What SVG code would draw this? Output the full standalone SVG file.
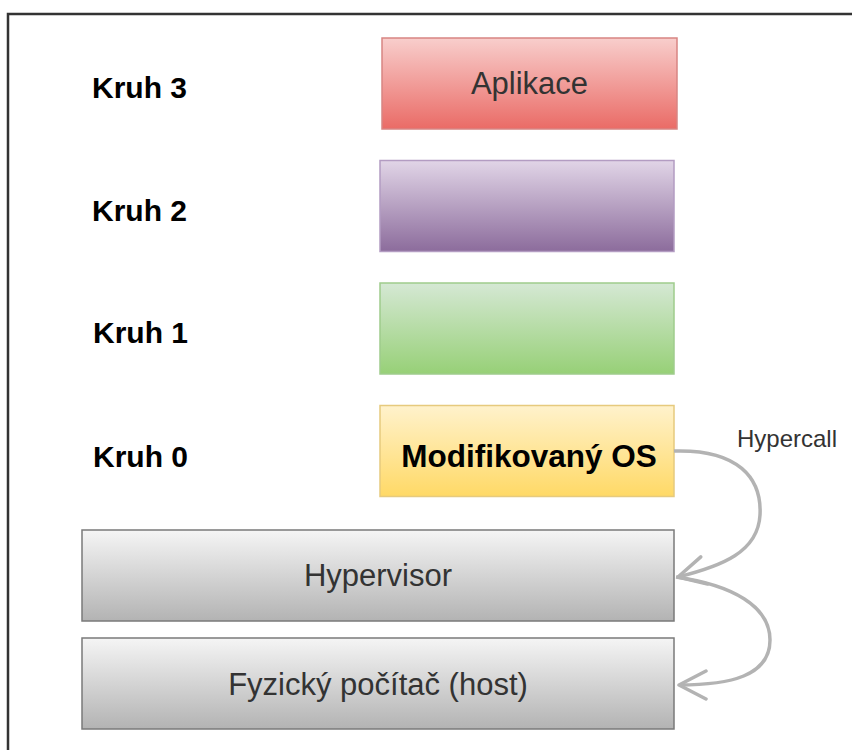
<svg xmlns="http://www.w3.org/2000/svg" width="852" height="750" viewBox="0 0 852 750">
  <defs>
    <linearGradient id="gRed" x1="0" y1="0" x2="0" y2="1">
      <stop offset="0" stop-color="#f8cecc"/>
      <stop offset="1" stop-color="#ea6b66"/>
    </linearGradient>
    <linearGradient id="gPurple" x1="0" y1="0" x2="0" y2="1">
      <stop offset="0" stop-color="#e1d5e7"/>
      <stop offset="1" stop-color="#8c6c9c"/>
    </linearGradient>
    <linearGradient id="gGreen" x1="0" y1="0" x2="0" y2="1">
      <stop offset="0" stop-color="#d5e8d4"/>
      <stop offset="1" stop-color="#97d077"/>
    </linearGradient>
    <linearGradient id="gYellow" x1="0" y1="0" x2="0" y2="1">
      <stop offset="0" stop-color="#fff2cc"/>
      <stop offset="1" stop-color="#ffd966"/>
    </linearGradient>
    <linearGradient id="gGray" x1="0" y1="0" x2="0" y2="1">
      <stop offset="0" stop-color="#f5f5f5"/>
      <stop offset="1" stop-color="#b3b3b3"/>
    </linearGradient>
    <marker id="openArrow" markerUnits="userSpaceOnUse" viewBox="-30 -16 32 32" refX="0" refY="0" markerWidth="32" markerHeight="32" orient="auto">
      <path d="M-27,-14 L0,0 L-27,14" fill="none" stroke="#b3b3b3" stroke-width="3.5" stroke-linejoin="round" stroke-linecap="round"/>
    </marker>
    <style>
      .ring { font-family: "Liberation Sans", Arial, sans-serif; font-weight: bold; font-size: 30px; fill: #000; }
      .lbl { font-family: "Liberation Sans", Arial, sans-serif; font-size: 31px; fill: #333; text-anchor: middle; }
      .lblb { font-family: "Liberation Sans", Arial, sans-serif; font-size: 31.5px; font-weight: bold; fill: #000; text-anchor: middle; }
      .edge { fill: none; stroke: #b3b3b3; stroke-width: 3.5; marker-end: url(#openArrow); }
      .edgeLbl { font-family: "Liberation Sans", Arial, sans-serif; font-size: 24px; fill: #333; }
      .box { stroke-width: 1.5; }
    </style>
  </defs>

  <rect width="852" height="750" fill="#ffffff"/>

  <!-- outer frame -->
  <path d="M8,750 V14 H852" fill="none" stroke="#333333" stroke-width="2.5"/>

  <!-- ring labels -->
  <g id="ring-labels">
    <text class="ring" x="92" y="98">Kruh 3</text>
    <text class="ring" x="92" y="221">Kruh 2</text>
    <text class="ring" x="93" y="343">Kruh 1</text>
    <text class="ring" x="93" y="467">Kruh 0</text>
  </g>

  <g id="aplikace">
    <rect class="box" x="382" y="38" width="295" height="91" fill="url(#gRed)" stroke="#d88583"/>
    <text class="lbl" x="529.5" y="94">Aplikace</text>
  </g>

  <g id="ring2">
    <rect class="box" x="380" y="160.5" width="294" height="91" fill="url(#gPurple)" stroke="#b39cc2"/>
  </g>

  <g id="ring1">
    <rect class="box" x="380" y="283" width="294" height="91" fill="url(#gGreen)" stroke="#9fcc8c"/>
  </g>

  <g id="modified-os">
    <rect class="box" x="380" y="405.5" width="294" height="91" fill="url(#gYellow)" stroke="#e6ca7e"/>
    <text class="lblb" x="529" y="467">Modifikovaný OS</text>
  </g>

  <g id="hypervisor">
    <rect class="box" x="82" y="530" width="592" height="91" fill="url(#gGray)" stroke="#7a7a7a"/>
    <text class="lbl" x="378" y="586">Hypervisor</text>
  </g>

  <g id="host">
    <rect class="box" x="82" y="638" width="592" height="91" fill="url(#gGray)" stroke="#7a7a7a"/>
    <text class="lbl" x="378" y="695">Fyzický počítač (host)</text>
  </g>

  <!-- connectors -->
  <g id="connectors">
    <path class="edge" d="M674,451 C738,449 762,478 760,515 C758,552 722,566 678,577"/>
    <path class="edge" d="M676,577 C732,585 770,606 770,640 C770,676 730,685 679,685"/>
    <text class="edgeLbl" x="737" y="447">Hypercall</text>
  </g>
</svg>
